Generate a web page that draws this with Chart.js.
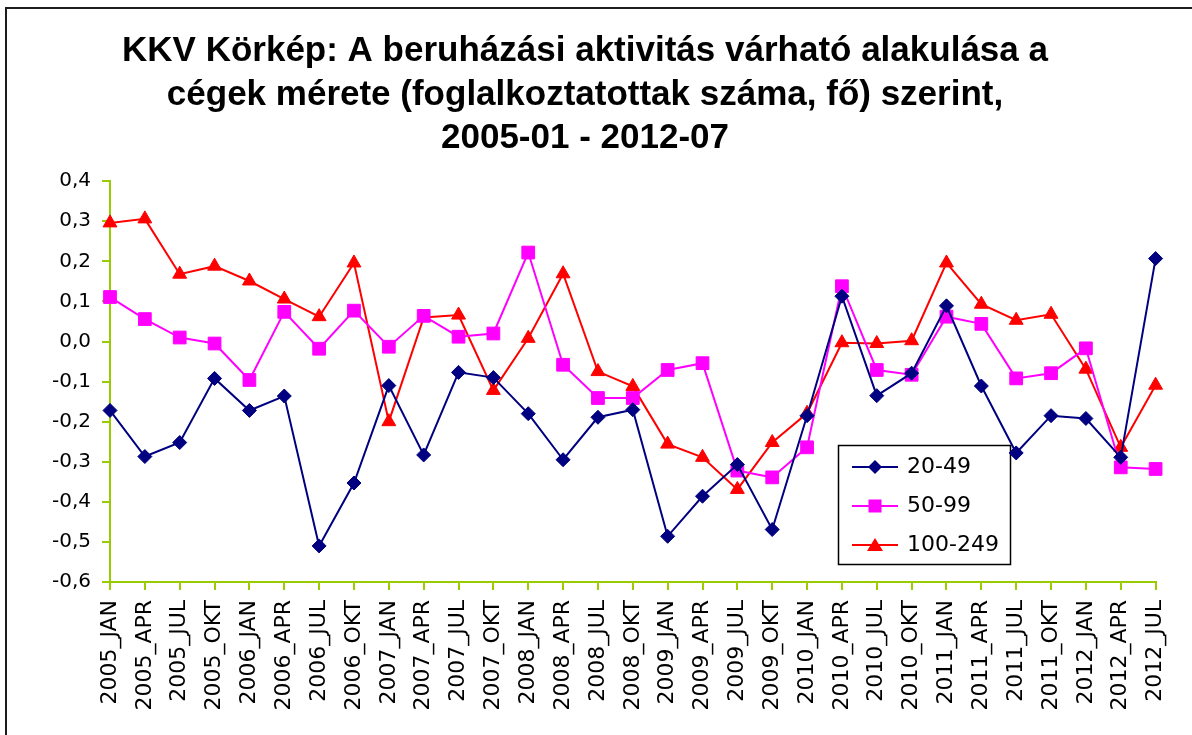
<!DOCTYPE html>
<html><head><meta charset="utf-8">
<script src="https://cdn.jsdelivr.net/npm/chart.js@4"></script>
<style>
html,body{margin:0;padding:0;background:#fff;overflow:hidden;width:1192px;height:735px;}
#wrap{position:absolute;left:0;top:0;width:1192px;height:735px;}
#frame{position:absolute;left:5px;top:7px;width:1300px;height:900px;border:2px solid #1c1c1c;pointer-events:none;}
canvas{position:absolute;left:0;top:0;}
</style></head><body>
<div id="wrap"><canvas id="c" width="1192" height="735"></canvas><div id="frame"></div></div>
<script>
const categories = [
  '2005_JAN','2005_APR','2005_JUL','2005_OKT',
  '2006_JAN','2006_APR','2006_JUL','2006_OKT',
  '2007_JAN','2007_APR','2007_JUL','2007_OKT',
  '2008_JAN','2008_APR','2008_JUL','2008_OKT',
  '2009_JAN','2009_APR','2009_JUL','2009_OKT',
  '2010_JAN','2010_APR','2010_JUL','2010_OKT',
  '2011_JAN','2011_APR','2011_JUL','2011_OKT',
  '2012_JAN','2012_APR','2012_JUL'
];
const seriesNames = ['20-49', '50-99', '100-249'];
const values2049 = [-0.172, -0.287, -0.252, -0.092, -0.172, -0.136, -0.51, -0.353, -0.11, -0.283, -0.077, -0.09, -0.18, -0.295, -0.189, -0.17, -0.486, -0.386, -0.307, -0.469, -0.185, 0.113, -0.135, -0.079, 0.089, -0.111, -0.278, -0.185, -0.192, -0.289, 0.207];
const values5099 = [0.111, 0.056, 0.01, -0.005, -0.096, 0.074, -0.018, 0.077, -0.013, 0.064, 0.012, 0.02, 0.222, -0.058, -0.141, -0.141, -0.071, -0.054, -0.322, -0.339, -0.264, 0.138, -0.071, -0.083, 0.062, 0.044, -0.092, -0.079, -0.017, -0.314, -0.318];
const values100249 = [0.296, 0.306, 0.168, 0.188, 0.151, 0.106, 0.062, 0.196, -0.2, 0.06, 0.066, -0.122, 0.008, 0.169, -0.075, -0.112, -0.256, -0.289, -0.369, -0.252, -0.179, -0.003, -0.005, 0.002, 0.196, 0.093, 0.053, 0.068, -0.069, -0.264, -0.109];
const yTickValues = [0.4, 0.3, 0.2, 0.1, 0.0, -0.1, -0.2, -0.3, -0.4, -0.5, -0.6];
const yTickLabels = ['0,4', '0,3', '0,2', '0,1', '0,0', '-0,1', '-0,2', '-0,3', '-0,4', '-0,5', '-0,6'];
const titleLines = [
  'KKV Körkép: A beruházási aktivitás várható alakulása a',
  'cégek mérete (foglalkoztatottak száma, fő) szerint,',
  '2005-01 - 2012-07'
];

const colors = ['#000080', '#ff00ff', '#ff0000'];
const axisColor = '#99cc00';

function legendIcon(color, shape) {
  const c = document.createElement('canvas');
  c.width = 46; c.height = 20;
  const g = c.getContext('2d');
  g.strokeStyle = color; g.lineWidth = 2;
  g.beginPath(); g.moveTo(0, 10); g.lineTo(46, 10); g.stroke();
  g.fillStyle = color; g.beginPath();
  if (shape === 'diamond') { g.moveTo(23, 3); g.lineTo(30, 10); g.lineTo(23, 17); g.lineTo(16, 10); }
  else if (shape === 'square') { g.rect(16.5, 3.5, 13, 13); }
  else { g.moveTo(23, 3); g.lineTo(31, 16); g.lineTo(15, 16); }
  g.closePath(); g.fill();
  return c;
}
const legendIcons = [legendIcon(colors[0], 'diamond'), legendIcon(colors[1], 'square'), legendIcon(colors[2], 'triangle')];

const legendFrame = {
  id: 'legendFrame',
  afterLayout(chart) {
    const lg = chart.legend;
    if (!lg) return;
    const w = lg.width, h = lg.height;
    lg.left = 837; lg.top = 439; lg.right = lg.left + w; lg.bottom = lg.top + h;
  },
  beforeDraw(chart) {
    const ctx = chart.ctx;
    ctx.save();
    ctx.fillStyle = '#fff';
    ctx.fillRect(0, 0, chart.width, chart.height);
    ctx.strokeStyle = '#000'; ctx.lineWidth = 1.5;
    ctx.strokeRect(838.5, 445.5, 172, 119);
    ctx.restore();
  }
};

const ds = (label, data, color, style, radius) => ({
  label, data,
  borderColor: color, backgroundColor: color,
  borderWidth: 2,
  pointStyle: style, pointRadius: radius, pointHoverRadius: radius,
  pointBackgroundColor: color, pointBorderColor: color, pointBorderWidth: 1,
  tension: 0, fill: false, clip: false
});

new Chart(document.getElementById('c'), {
  type: 'line',
  data: {
    labels: categories,
    datasets: [
      ds(seriesNames[0], values2049, colors[0], 'rectRot', 7),
      ds(seriesNames[1], values5099, colors[1], 'rect', 9),
      ds(seriesNames[2], values100249, colors[2], 'triangle', 8)
    ]
  },
  options: {
    responsive: false,
    devicePixelRatio: 1,
    animation: false,
    layout: { padding: { left: 0, right: 22, top: 0, bottom: 0 } },
    plugins: {
      title: {
        display: true,
        text: titleLines,
        color: '#000',
        font: { family: "'Liberation Sans', Arial, sans-serif", size: 35, weight: 'bold', lineHeight: 1.24 },
        padding: { top: 30, bottom: 21 }
      },
      legend: {
        display: true,
        position: 'chartArea',
        align: 'start',
        labels: {
          usePointStyle: true,
          pointStyleWidth: 42,
          padding: 17,
          color: '#000',
          font: { family: "'DejaVu Sans', Verdana, sans-serif", size: 22 },
          generateLabels(chart) {
            const items = Chart.defaults.plugins.legend.labels.generateLabels(chart);
            items.forEach((it, i) => { it.pointStyle = legendIcons[i]; it.fontColor = '#000'; });
            return items;
          }
        }
      },
      tooltip: { enabled: false }
    },
    scales: {
      x: {
        type: 'category',
        offset: false,
        afterFit(s) { s.height = 153; },
        grid: { display: true, drawOnChartArea: false, drawTicks: true, tickLength: 8, color: axisColor, lineWidth: 2 },
        border: { display: true, color: axisColor, width: 2 },
        ticks: {
          autoSkip: false, maxRotation: 90, minRotation: 90, padding: 10,
          color: '#000',
          font: { family: "'DejaVu Sans', Verdana, sans-serif", size: 22 }
        }
      },
      y: {
        type: 'linear',
        min: -0.6, max: 0.4,
        afterFit(s) { s.width = 110; },
        afterBuildTicks(s) { s.ticks = yTickValues.slice().sort((a, b) => a - b).map(v => ({ value: v })); },
        grid: { display: true, drawOnChartArea: false, drawTicks: true, tickLength: 8, color: axisColor, lineWidth: 2 },
        border: { display: true, color: axisColor, width: 2 },
        ticks: {
          padding: 11,
          color: '#000',
          font: { family: "'DejaVu Sans', Verdana, sans-serif", size: 20 },
          callback(v) {
            const i = yTickValues.findIndex(t => Math.abs(t - v) < 1e-6);
            return i >= 0 ? yTickLabels[i] : '';
          }
        }
      }
    }
  },
  plugins: [legendFrame]
});
</script>
</body></html>
